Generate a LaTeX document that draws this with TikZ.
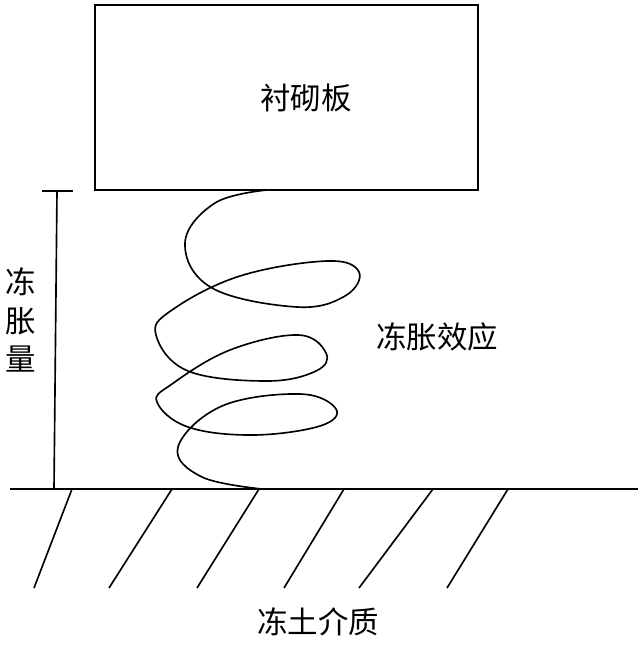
\documentclass[tikz,border=0pt]{standalone}
\usepackage{fontspec}
\newfontfamily\cjk{Noto Sans CJK SC}
\usepackage{tikz}
\usetikzlibrary{positioning,calc}

\begin{document}
\begin{tikzpicture}[
    x=0.03cm, y=-0.03cm,
    label/.style={font=\cjk\fontsize{26}{33}\selectfont, inner sep=0pt},
    slabbox/.style={rectangle, draw, line width=1.4pt, minimum width=11.49cm, minimum height=5.55cm},
    line/.style={line width=1.4pt},
]
    \useasboundingbox (0,0) rectangle (640,646);

    % Lining slab
    \node[slabbox] (slab) at (286.5,97.5) {};
    \node[label] (slabtxt) at (306,98) {衬砌板};

    % Ground surface and hatching
    \coordinate (gl) at (10,489);
    \coordinate (gr) at (638,489);
    \draw[line] (gl) -- (gr);
    \foreach \xt/\xb in {72/34, 172/109, 259/197, 344/284, 433/359, 508/447}
        \draw[line] (\xt,489) -- (\xb,588);
    \node[label] (soil) at (318,622) {冻土介质};

    % Frost heave spring
    \coordinate (sprtop) at (267,190);
    \coordinate (sprbot) at (262,489);
    \draw[line] plot[smooth, tension=0.65] coordinates {
        (sprtop) (215,203) (185,243) (212,288) (297,307) (345,296) (359,272)
        (327,261) (240,276) (172,310) (156,335) (188,371) (267,381) (316,371)
        (326,353) (298,335) (230,350) (172,384) (157,402) (188,427) (253,435)
        (320,426) (336,409) (300,394) (222,406) (178,447) (202,477) (sprbot)};
    \node[label] (heave) at (437,337) {冻胀效应};

    % Heave amount dimension
    \coordinate (dimtop) at (57,191);
    \coordinate (dimbot) at (54,489);
    \draw[line] (42,191) -- (73,191);
    \draw[line] (dimtop) -- (dimbot);
    \node[label, align=center] (amount) at (21,320) {冻\\胀\\量};
\end{tikzpicture}
\end{document}
